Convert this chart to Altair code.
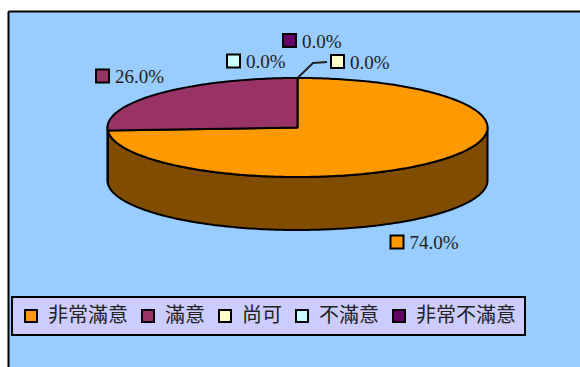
import math
import altair as alt
import pandas as pd

# ---------------- data ----------------
categories = ["非常滿意", "滿意", "尚可", "不滿意", "非常不滿意"]
shares = [74.0, 26.0, 0.0, 0.0, 0.0]
top_colors = ["#FF9900", "#993366", "#FFFFCC", "#CCFFFF", "#660066"]
side_colors = ["#7F4C00", "#4D1A33", "#80806A", "#6A8080", "#330033"]

# ---------------- layout (page pixels) ----------------
W, H = 580, 367
OX, OY = 8, 11                      # plot-area origin (frame line)
CX, CY, RX, RY, DEPTH = 297.5, 127.5, 190.0, 49.5, 53.0
# data-label marker centres, one per category
label_anchor = [(397, 242), (102.5, 76), (337.5, 61.5), (233.5, 61), (289.5, 40.5)]
TEXT_DX, TEXT_DY = 12.5, 7.0
leader = [(CX, CY - RY), (313, 63), (327, 62)]


def pt(theta, dy=0.0):
    t = math.radians(theta)
    return CX + RX * math.cos(t), CY - RY * math.sin(t) + dy


def arc(a, b, dy=0.0):
    n = max(2, int(abs(a - b)) + 2)
    return [pt(a + (b - a) * k / (n - 1), dy) for k in range(n)]


top_rows, side_rows = [], []
cum = 0.0
for ci, (cat, s) in enumerate(zip(categories, shares)):
    start = 90 - 360 * cum / 100
    end = 90 - 360 * (cum + s) / 100
    cum += s
    if s <= 0:
        continue
    pts = [(CX, CY)] + arc(start, end)
    for i, (x, y) in enumerate(pts):
        top_rows.append({"sid": cat, "i": i, "x": x, "y": y, "fill": top_colors[ci]})
    a, b = min(start, 0.0), max(end, -180.0)
    if a > b:
        wall = arc(a, b) + arc(b, a, DEPTH)
        for i, (x, y) in enumerate(wall):
            side_rows.append({"sid": cat, "i": i, "x": x, "y": y, "fill": side_colors[ci]})

top_df = pd.DataFrame(top_rows)
side_df = pd.DataFrame(side_rows)
lab_df = pd.DataFrame({
    "cat": categories,
    "label": [f"{s:.1f}%" for s in shares],
    "mx": [p[0] for p in label_anchor],
    "my": [p[1] for p in label_anchor],
    "tx": [p[0] + TEXT_DX for p in label_anchor],
    "ty": [p[1] + TEXT_DY for p in label_anchor],
})
lead_df = pd.DataFrame({"i": list(range(len(leader))),
                        "x": [p[0] for p in leader], "y": [p[1] for p in leader]})

xs = alt.Scale(domain=[OX, W], nice=False, zero=False)
ys = alt.Scale(domain=[OY, H], nice=False, zero=False, reverse=True)
frame_x = alt.Axis(orient="top", domain=True, domainColor="black", domainWidth=2,
                   ticks=False, labels=False, grid=False, title=None)
frame_y = alt.Axis(orient="left", domain=True, domainColor="black", domainWidth=2,
                   ticks=False, labels=False, grid=False, title=None)


def X(f):
    return alt.X(f, type="quantitative", scale=xs, axis=frame_x)


def Y(f):
    return alt.Y(f, type="quantitative", scale=ys, axis=frame_y)


walls = alt.Chart(side_df).mark_line(
    interpolate="linear-closed", stroke="black", strokeWidth=2, strokeJoin="round"
).encode(
    x=X("x"), y=Y("y"),
    detail="sid:N",
    order="i:Q",
    fill=alt.Fill("fill:N", scale=None),
)

tops = alt.Chart(top_df).mark_line(
    interpolate="linear-closed", stroke="black", strokeWidth=2, strokeJoin="round"
).encode(
    x=X("x"), y=Y("y"),
    detail="sid:N",
    order="i:Q",
    fill=alt.Fill("fill:N", scale=None),
)

lead = alt.Chart(lead_df).mark_line(color="#222222", strokeWidth=2).encode(
    x=X("x"), y=Y("y"),
    order="i:Q",
)

markers = alt.Chart(lab_df).mark_square(
    size=169, filled=True, stroke="black", strokeWidth=2, opacity=1
).encode(
    x=X("mx"), y=Y("my"),
    color=alt.Color(
        "cat:N",
        scale=alt.Scale(domain=categories, range=top_colors),
        sort=categories,
        legend=alt.Legend(
            orient="none", legendX=12 - OX, legendY=297 - OY, direction="horizontal",
            title=None, symbolType="square", symbolSize=144,
            symbolStrokeColor="black", symbolStrokeWidth=2, symbolOpacity=1,
            labelFont="Noto Sans CJK TC", labelFontSize=20, labelColor="#222222",
            labelOffset=7, columnPadding=10, padding=9, labelLimit=0,
            fillColor="#CCCCFF", strokeColor="black",
        ),
    ),
)

texts = alt.Chart(lab_df).mark_text(
    align="left", baseline="alphabetic", font="Liberation Serif", fontSize=19, color="#222222"
).encode(
    x=X("tx"), y=Y("ty"),
    text="label:N",
)

chart = alt.layer(walls, tops, lead, markers, texts).properties(
    width=W - OX, height=H - OY,
    padding={"left": OX, "top": OY, "right": 0, "bottom": 0},
    autosize="none",
).configure_view(fill="#99CCFF", stroke="transparent").configure_legend(strokeWidth=2)

chart.save("out.html", embed_options={"renderer": "svg", "actions": False})
